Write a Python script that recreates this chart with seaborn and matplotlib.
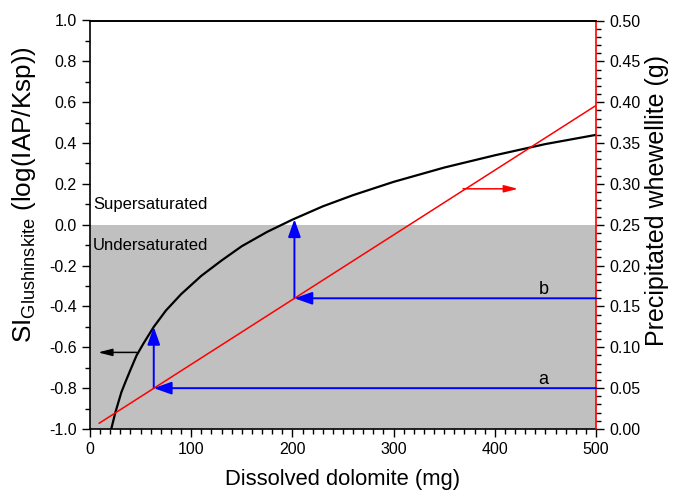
import matplotlib
matplotlib.use("Agg")
import matplotlib.pyplot as plt
from matplotlib.ticker import MultipleLocator, FormatStrFormatter
import seaborn as sns
import pandas as pd

# Saturation index of glushinskite vs. dissolved dolomite
dolomite_mg = [21, 23, 25, 28, 31, 35, 40, 46, 53, 63, 75, 90, 110, 130, 150, 175,
               200, 230, 260, 300, 350, 400, 450, 500]
si_glushinskite = [-1.00, -0.96, -0.92, -0.87, -0.82, -0.77, -0.71, -0.64, -0.58, -0.50,
                   -0.42, -0.34, -0.25, -0.175, -0.105, -0.035, 0.025, 0.09, 0.145,
                   0.21, 0.28, 0.34, 0.395, 0.44]

# Precipitated whewellite (g), linear in dissolved dolomite
whewellite_x = [9, 500]
whewellite_g = [0.007, 0.396]

# Reading paths a and b: dolomite dose, whewellite mass, SI reached
path_labels = ["a", "b"]
path_dolomite = [63, 202]
path_whewellite = [0.05, 0.16]
path_si = [-0.50, 0.027]

sns.set_theme(style="ticks")
plt.rcParams["font.family"] = ["Liberation Sans", "DejaVu Sans"]
plt.rcParams["mathtext.fontset"] = "custom"
plt.rcParams["mathtext.rm"] = "Liberation Sans"
plt.rcParams["mathtext.it"] = "Liberation Sans:italic"
plt.rcParams["text.color"] = "black"
plt.rcParams["axes.labelcolor"] = "black"

fig = plt.figure(figsize=(6.73, 4.94), dpi=100)
ax = fig.add_axes([90 / 673, 1 - 429 / 494, 506 / 673, 408.5 / 494])
ax2 = ax.twinx()

# undersaturated zone
ax.axhspan(-1.0, 0.0, color="#c0c0c0", lw=0, zorder=0)

si_df = pd.DataFrame({"dolomite": dolomite_mg, "si": si_glushinskite})
wh_df = pd.DataFrame({"dolomite": whewellite_x, "mass": whewellite_g})
sns.lineplot(data=si_df, x="dolomite", y="si", ax=ax, color="black", lw=1.6, zorder=3)
sns.lineplot(data=wh_df, x="dolomite", y="mass", ax=ax2, color="red", lw=1.1, zorder=3)

ax.set_xlim(0, 500)
ax.set_ylim(-1.0, 1.0)
ax2.set_ylim(0.0, 0.5)

ax.xaxis.set_major_locator(MultipleLocator(100))
ax.xaxis.set_minor_locator(MultipleLocator(10))
ax.yaxis.set_major_locator(MultipleLocator(0.2))
ax.yaxis.set_minor_locator(MultipleLocator(0.1))
ax.yaxis.set_major_formatter(FormatStrFormatter("%.1f"))
ax2.yaxis.set_major_locator(MultipleLocator(0.05))
ax2.yaxis.set_minor_locator(MultipleLocator(0.01))
ax2.yaxis.set_major_formatter(FormatStrFormatter("%.2f"))

tick_kw = dict(direction="out", width=1.0, colors="black", labelsize=11.5)
ax.tick_params(which="major", length=6, **tick_kw)
ax.tick_params(which="minor", length=3.5, width=1.0, direction="out", colors="black")
ax2.tick_params(which="major", length=6, **tick_kw)
ax2.tick_params(which="minor", length=3.5, width=1.0, direction="out", colors="black")

for s in ax.spines.values():
    s.set_linewidth(1.2)
    s.set_color("black")
for name, s in ax2.spines.items():
    s.set_linewidth(1.2)
    s.set_color("red" if name == "right" else "black")
ax2.spines["left"].set_visible(False)
ax2.spines["bottom"].set_visible(False)
ax.spines["right"].set_visible(False)

ax.set_xlabel("Dissolved dolomite (mg)", fontsize=15.8)
ax.set_ylabel(r"SI$_{\mathrm{Glushinskite}}$ (log(IAP/Ksp))", fontsize=18.8)
ax2.set_ylabel("Precipitated whewellite (g)", fontsize=18)
ax.xaxis.set_label_coords(0.5, -0.098)
ax.yaxis.set_label_coords(-0.103, 0.573)
ax2.yaxis.set_label_coords(1.097, 0.56)

ax.text(3, 0.1, "Supersaturated", fontsize=12, va="center", ha="left", zorder=4)
ax.text(3, -0.1, "Undersaturated", fontsize=12, va="center", ha="left", zorder=4)

blue_head = dict(arrowstyle="-|>,head_length=0.9,head_width=0.32", color="blue",
                 lw=1.4, shrinkA=0, shrinkB=0)
for lab, xd, wg, si in zip(path_labels, path_dolomite, path_whewellite, path_si):
    # horizontal: from the whewellite axis back to the red line
    ax2.annotate("", xy=(xd, wg), xytext=(500, wg), arrowprops=blue_head, zorder=5)
    # vertical: from the red line up to the SI curve
    ax.annotate("", xy=(xd, si), xycoords=ax.transData,
                xytext=(xd, wg), textcoords=ax2.transData,
                arrowprops=blue_head, zorder=5)
    ax2.text(448, wg + 0.005, lab, fontsize=13, ha="center", va="baseline", zorder=5)

# axis pointers
thin_head = dict(arrowstyle="-|>,head_length=0.7,head_width=0.18", lw=1.1,
                 shrinkA=0, shrinkB=0)
ax.annotate("", xy=(8, -0.625), xytext=(46, -0.625),
            arrowprops=dict(color="black", **thin_head), zorder=5)
ax2.annotate("", xy=(423, 0.294), xytext=(368.6, 0.294),
             arrowprops=dict(color="red", **thin_head), zorder=5)

ax2.set_zorder(ax.get_zorder() + 1)
ax2.patch.set_visible(False)

fig.savefig("out.png", dpi=100)
